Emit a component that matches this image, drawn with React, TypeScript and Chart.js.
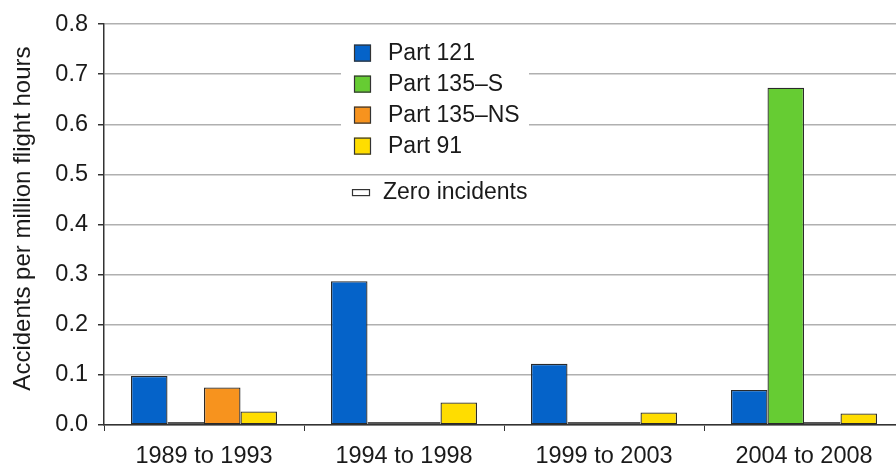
import React, { useEffect, useRef } from "react";
import { Chart, registerables } from "chart.js";

Chart.register(...registerables);

// ---- data ----
const categories = ["1989 to 1993", "1994 to 1998", "1999 to 2003", "2004 to 2008"];
const seriesLabels = ["Part 121", "Part 135\u2013S", "Part 135\u2013NS", "Part 91"];
const part121 = [0.098, 0.287, 0.122, 0.07];
const part135S = [0, 0, 0, 0.673];
const part135NS = [0.075, 0, 0, 0];
const part91 = [0.027, 0.045, 0.025, 0.023];
const yTickLabels = ["0.0", "0.1", "0.2", "0.3", "0.4", "0.5", "0.6", "0.7", "0.8"];
const yTitle = "Accidents per million flight hours";
const zeroLabel = "Zero incidents";

// ---- style ----
const seriesColors = ["#0563C9", "#66CC33", "#F7931E", "#FFDD00"];
const ZERO_MARK = 0.006; // visual height of the "zero incidents" placeholder
const FONT = "'Liberation Sans', Arial, Helvetica, sans-serif";
const FS = 23.5;
const LFS = 23;
const TFS = 24;

const allSeries = [part121, part135S, part135NS, part91];

const legendPlugin = {
  id: "boxLegend",
  afterDatasetsDraw(chart: any) {
    const ctx = chart.ctx;
    const { left, top, bottom } = chart.chartArea;
    ctx.save();
    ctx.fillStyle = "#ffffff";
    ctx.fillRect(left + 237, top + 12, 188, 127);
    ctx.font = `${LFS}px ${FONT}`;
    ctx.textBaseline = "middle";
    ctx.textAlign = "left";
    chart.data.datasets.forEach((ds: any, i: number) => {
      const cy = top + 29 + i * 31;
      ctx.fillStyle = seriesColors[i];
      ctx.fillRect(left + 250, cy - 8.5, 17, 17);
      ctx.strokeStyle = "#333";
      ctx.lineWidth = 1.2;
      ctx.strokeRect(left + 250.5, cy - 8, 16, 16);
      ctx.fillStyle = "#1a1a1a";
      ctx.fillText(ds.label, left + 284, cy + 1);
    });
    const zy = top + 168;
    ctx.fillStyle = "#fff";
    ctx.fillRect(left + 248, zy - 3, 18, 6);
    ctx.strokeStyle = "#333";
    ctx.strokeRect(left + 248.5, zy - 2.5, 17, 6);
    ctx.fillStyle = "#1a1a1a";
    ctx.fillText(zeroLabel, left + 279, zy + 1);

    // y-axis title
    ctx.translate(23, (top + bottom) / 2 - 6);
    ctx.rotate(-Math.PI / 2);
    ctx.font = `${TFS}px ${FONT}`;
    ctx.textAlign = "center";
    ctx.textBaseline = "middle";
    ctx.fillText(yTitle, 0, 0);
    ctx.restore();
  },
};

export default function App() {
  const ref = useRef<HTMLCanvasElement>(null);
  useEffect(() => {
    if (!ref.current) return;
    const chart = new Chart(ref.current, {
      type: "bar",
      data: {
        labels: categories,
        datasets: allSeries.map((vals, i) => ({
          label: seriesLabels[i],
          data: vals.map((v) => (v === 0 ? ZERO_MARK : v)),
          backgroundColor: vals.map((v) => (v === 0 ? "#ffffff" : seriesColors[i])),
          borderColor: vals.map((v) => (v === 0 ? "#555555" : "#2a2a2a")),
          borderWidth: 1.3,
          borderSkipped: false,
          categoryPercentage: 0.73,
          barPercentage: 1,
        })),
      },
      options: {
        responsive: false,
        animation: false,
        devicePixelRatio: 1,
        layout: { padding: { top: 24, left: 0, right: 0, bottom: 0 } },
        plugins: { legend: { display: false }, tooltip: { enabled: false } },
        scales: {
          x: {
            afterFit: (s: any) => {
              s.height = 40;
            },
            grid: {
              offset: true,
              drawOnChartArea: false,
              drawTicks: true,
              tickLength: 6,
              color: "#333",
            },
            border: { color: "#333", width: 1.5 },
            ticks: { color: "#1a1a1a", font: { family: FONT, size: FS }, padding: 11, maxRotation: 0 },
          },
          y: {
            min: 0,
            max: 0.8,
            afterFit: (s: any) => {
              s.width = 104;
            },
            grid: {
              color: "#b0b0b0",
              lineWidth: 1.5,
              tickColor: "#333",
              tickLength: 6,
            },
            border: { color: "#333", width: 1.5 },
            ticks: {
              stepSize: 0.1,
              color: "#1a1a1a",
              font: { family: FONT, size: FS },
              padding: 10,
              callback: (_v: any, idx: number) => yTickLabels[idx],
            },
            title: { display: false },
          },
        },
      },
      plugins: [legendPlugin],
    });
    return () => chart.destroy();
  }, []);
  return (
    <div
      style={{
        position: "fixed",
        left: 0,
        top: 0,
        width: 896,
        height: 465,
        overflow: "hidden",
        background: "#fff",
      }}
    >
      <canvas ref={ref} width={904} height={465} style={{ display: "block" }} />
    </div>
  );
}
